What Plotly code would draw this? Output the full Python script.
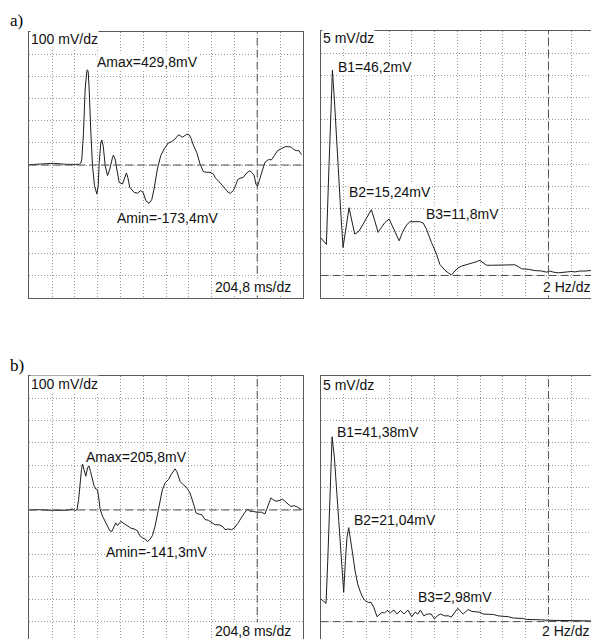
import plotly.graph_objects as go

# ---------------- data ----------------
# a) time signal (ms, mV)
a_t = [0, 120, 224, 329, 448, 463, 472, 487, 502, 517, 523, 529, 538, 553, 568, 586, 607, 619, 628, 643,
       652, 664, 682, 703, 724, 748, 756, 771, 792, 807, 837, 861, 873, 885, 903, 942, 972, 1002, 1023, 1047,
       1076, 1100, 1121, 1151, 1181, 1211, 1250, 1280, 1310, 1340, 1355, 1375, 1393, 1414, 1435, 1453, 1474,
       1504, 1534, 1564, 1594, 1624, 1654, 1674, 1698, 1728, 1758, 1788, 1806, 1833, 1854, 1872, 1893, 1923,
       1953, 1982, 2003, 2021, 2036, 2051, 2066, 2087, 2117, 2147, 2177, 2201, 2231, 2267, 2302, 2332, 2356,
       2380, 2401, 2422, 2446]
a_mv = [1.5, 3, 7.5, 3, 3, 9, 27, 148, 344, 427, 429.8, 422, 344, 148, -3, -94, -131, -94, 12, 103,
        113, 87, -3, -48, -18, 35, 45, 27, -48, -78, -86, -48, -36, -56, -101, -124, -127, -116, -124, -161,
        -173.4, -157, -109, -18, 42, 72, 100, 106, 118, 136, 133, 125, 133, 139, 137, 121, 90,
        57, 5, -30, -33, -33, -41, -60, -71, -90, -106, -124, -128, -116, -93, -66, -60, -56,
        -36, -26, -36, -48, -86, -97, -71, -33, 12, 24, 24, 42, 65, 75, 83, 83, 80,
        69, 65, 65, 47]

# a) spectrum (Hz, mV)
a_f = [0, 0.50, 0.73, 1.03, 1.23, 1.47, 1.73, 1.96, 2.26, 2.49, 2.70, 2.99, 3.37, 3.72, 4.16, 4.45, 4.75,
       5.04, 5.33, 5.63, 6.01, 6.21, 6.50, 6.89, 7.18, 7.53, 7.82, 8.26, 8.70, 9.00, 9.29, 9.73, 10.17,
       10.46, 10.90, 11.19, 11.49, 11.69, 11.93, 12.07, 12.37, 12.66, 13.10, 13.39, 13.68, 13.98, 14.27,
       14.56, 15.0, 15.59, 16.17, 16.61, 17.05, 17.35, 17.64, 18.23, 18.81, 19.40, 19.84, 20.13, 20.42,
       20.86, 21.45, 22.04, 22.33, 22.77, 23.21, 23.65, 24.0]
a_b = [8.5, 7.0, 24.7, 46.2, 38.3, 26.2, 15.7, 6.3, 11.2, 15.24, 12.7, 9.3, 10.0, 11.5, 13.4, 14.8, 12.3,
       9.7, 10.8, 11.9, 12.7, 11.5, 10.0, 7.8, 9.7, 11.3, 12.1, 12.1, 12.1, 11.8, 10.4, 7.4, 4.8,
       2.5, 1.2, 0.6, 0.15, 0.75, 1.5, 1.7, 2.1, 2.3, 2.7, 2.9, 3.1, 3.4, 2.9,
       2.3, 2.3, 2.3, 2.3, 2.3, 2.4, 2.0, 1.5, 1.4, 1.1, 1.0, 0.75, 1.0, 0.75,
       0.6, 0.8, 0.9, 0.8, 1.0, 1.0, 1.1, 1.0]

# b) time signal (ms, mV)
b_t = [0, 90, 179, 269, 329, 359, 389, 413, 428, 443, 454, 469, 478, 493, 508, 523, 535, 550, 568, 583,
       598, 613, 622, 637, 658, 682, 703, 724, 742, 762, 777, 792, 807, 822, 852, 882, 912, 942, 972, 993,
       1017, 1041, 1061, 1082, 1106, 1130, 1151, 1172, 1196, 1220, 1250, 1274, 1295, 1310, 1325, 1340,
       1355, 1384, 1414, 1444, 1465, 1483, 1498, 1519, 1549, 1579, 1609, 1639, 1669, 1713, 1743, 1758,
       1788, 1818, 1842, 1872, 1902, 1938, 1962, 1982, 2012, 2042, 2087, 2117, 2132, 2153, 2171, 2192,
       2216, 2252, 2276, 2296, 2326, 2350, 2380, 2410, 2446]
b_mv = [0, 1.5, -1.5, -3, -1.5, 1.5, 4.5, -3, 1.5, 46, 121, 181, 205.8, 181, 151, 188, 198, 173, 136, 106,
        94, 91, 61, 1.5, -28, -51, -73, -93, -96, -73, -58, -70, -61, -51, -61, -73, -81, -85, -93, -115,
        -125, -130, -141.3, -133, -115, -73, -21, 31, 91, 121, 136, 158, 176, 184, 173, 151,
        128, 113, 101, 76, 46, 16, -13, -18, -21, -43, -46, -58, -66, -67, -76, -88,
        -85, -88, -81, -61, -36, -10, 4.5, -6, -6, -10, -10, -18, 1.5, 31, 54, 46,
        39, 43, 49, 39, 24, 16, 19, 13, 1.5]

# b) spectrum (Hz, mV)
b_f = [0, 0.18, 0.47, 0.62, 0.85, 1.0, 1.2, 1.44, 1.64, 1.85, 2.02, 2.17, 2.31, 2.46, 2.61, 2.81, 3.02,
       3.25, 3.49, 3.69, 3.90, 4.19, 4.42, 4.66, 4.95, 5.16, 5.39, 5.60, 5.83, 6.12, 6.42, 6.71, 7.00,
       7.30, 7.65, 8.0, 8.29, 8.53, 8.76, 9.05, 9.35, 9.70, 9.99, 10.23, 10.52, 10.87, 11.22, 11.46,
       11.75, 12.04, 12.31, 12.51, 12.72, 12.95, 13.25, 13.60, 13.98, 14.27, 14.71, 15.15, 15.59, 16.03,
       16.47, 16.91, 17.35, 17.79, 18.08, 18.52, 18.96, 19.40, 19.98, 20.57, 21.16, 21.74, 22.33, 22.91,
       23.50, 24.0]
b_b = [5.1, 4.7, 4.1, 13.7, 33.8, 41.38, 36.8, 28.6, 20.4, 12.9, 6.6, 13.7, 18.9, 21.04, 18.9, 15.1, 11.4,
       8.4, 6.6, 5.4, 4.7, 4.3, 4.3, 3.2, 1.1, 1.6, 2.1, 1.9, 2.5, 2.0, 2.6, 1.7, 2.5,
       1.7, 2.6, 1.1, 2.1, 1.7, 2.6, 1.3, 1.7, 1.7, 0.6, 1.3, 1.7, 1.3, 1.3, 1.0,
       1.9, 2.98, 2.2, 1.7, 2.2, 2.7, 2.3, 2.2, 2.1, 1.7, 1.6, 1.6, 1.3, 1.2,
       1.1, 0.8, 0.75, 0.7, 0.5, 0.5, 0.45, 0.4, 0.3, 0.3, 0.2, 0.2, 0.2, 0.15,
       0.15, 0.15]

ms_per_div = 204.8
hz_per_div = 2
mv_time_div = 100
mv_spec_div = 5

# ---------------- layout helpers ----------------
PAGE_W, PAGE_H = 599, 639
OFF = 8                       # default body margin of the HTML page
W, H = PAGE_W - OFF, PAGE_H - OFF


def px(x):
    return (x - OFF) / W


def py(y):
    return 1 - (y - OFF) / H


FONT = "Liberation Sans, Arial, sans-serif"
LINE = "#1e1e1e"
GRID = "#9a9a9a"
BORDER = "#5a5a5a"
DASH = "#505050"

fig = go.Figure()
fig.add_trace(go.Scatter(x=a_t, y=a_mv, mode="lines", line=dict(color=LINE, width=1), xaxis="x", yaxis="y"))
fig.add_trace(go.Scatter(x=a_f, y=a_b, mode="lines", line=dict(color=LINE, width=1), xaxis="x2", yaxis="y2"))
fig.add_trace(go.Scatter(x=b_t, y=b_mv, mode="lines", line=dict(color=LINE, width=1), xaxis="x3", yaxis="y3"))
fig.add_trace(go.Scatter(x=b_f, y=b_b, mode="lines", line=dict(color=LINE, width=1), xaxis="x4", yaxis="y4"))

common = dict(showticklabels=False, ticks="", showgrid=True, gridcolor=GRID, griddash="1px,2px", gridwidth=1,
              zeroline=False, fixedrange=True)

# panel pixel boxes on the page (left, top, right, bottom)
boxes = {
    1: (29.3, 32.3, 302.8, 297.7),
    2: (320.7, 31.0, 594.0, 297.7),
    3: (29.3, 376.0, 302.8, 639.0),
    4: (320.7, 376.0, 594.0, 639.0),
}
DIV_PX = 22.33


def vis_bottom(top, top_val, per_div):
    # value at the page's bottom edge, for a panel cut off by the page
    return top_val - (PAGE_H - top) / DIV_PX * per_div


layout = dict(width=W, height=H, margin=dict(l=0, r=0, t=0, b=0), autosize=False,
              paper_bgcolor="white", plot_bgcolor="white", showlegend=False)

for i, (l, t, r, b) in boxes.items():
    xs = "" if i == 1 else str(i)
    time_panel = i in (1, 3)
    xa = dict(common, domain=[max(0, px(l)), min(1, px(r))], anchor="y" + xs,
              range=[0, 12 * (ms_per_div if time_panel else hz_per_div)],
              dtick=ms_per_div if time_panel else hz_per_div, tick0=0,
              showline=True, linecolor=BORDER, linewidth=1)
    if time_panel:
        top_val = 6 * mv_time_div
        per = mv_time_div
    else:
        top_val = 11 * mv_spec_div
        per = mv_spec_div
    if i in (1, 2):
        ymin = top_val - 12 * per
        xa["mirror"] = True
    else:
        ymin = vis_bottom(t, top_val, per)
        xa["side"] = "top"
    ya = dict(common, domain=[max(0, py(b)), min(1, py(t))], anchor="x" + xs, range=[ymin, top_val],
              dtick=per, tick0=0, showline=True, linecolor=BORDER, linewidth=1, mirror=True)
    layout["xaxis" + xs] = xa
    layout["yaxis" + xs] = ya

fig.update_layout(**layout)

# dashed reference lines: zero line and the 10th vertical division
for i in range(1, 5):
    xs = "" if i == 1 else str(i)
    time_panel = i in (1, 3)
    fig.add_shape(type="line", xref="x" + xs + " domain", yref="y" + xs, x0=0, x1=1, y0=0, y1=0,
                  line=dict(color=DASH, width=1, dash="8px,4px"))
    xv = 10 * (ms_per_div if time_panel else hz_per_div)
    fig.add_shape(type="line", xref="x" + xs, yref="y" + xs + " domain", x0=xv, x1=xv, y0=0, y1=1,
                  line=dict(color=DASH, width=1, dash="8px,4px"))

labels = [
    ("100 mV/dz", 30.7, 39), ("Amax=429,8mV", 96.7, 62), ("Amin=-173,4mV", 117, 218), ("204,8 ms/dz", 215, 287),
    ("5 mV/dz", 323, 38), ("B1=46,2mV", 338, 66.5), ("B2=15,24mV", 349, 192), ("B3=11,8mV", 426, 214),
    ("2 Hz/dz", 543, 287),
    ("100 mV/dz", 30.7, 384), ("Amax=205,8mV", 86, 457), ("Amin=-141,3mV", 106, 552), ("204,8 ms/dz", 215, 631),
    ("5 mV/dz", 323, 385), ("B1=41,38mV", 337, 432), ("B2=21,04mV", 354, 520), ("B3=2,98mV", 418, 597),
    ("2 Hz/dz", 542, 631),
]
for txt, x, y in labels:
    fig.add_annotation(text=txt, xref="paper", yref="paper", x=px(x - 1), y=py(y), xanchor="left",
                       yanchor="middle", showarrow=False, bgcolor="white", borderpad=0,
                       font=dict(family=FONT, size=14, color="#111"))

for txt, x, y in [("a)", 8, 20), ("b)", 8, 365)]:
    fig.add_annotation(text=txt, xref="paper", yref="paper", x=px(x), y=py(y), xanchor="left",
                       yanchor="middle", showarrow=False,
                       font=dict(family="Liberation Serif, Times New Roman, serif", size=17, color="#000"))

fig.write_html("out.html")
